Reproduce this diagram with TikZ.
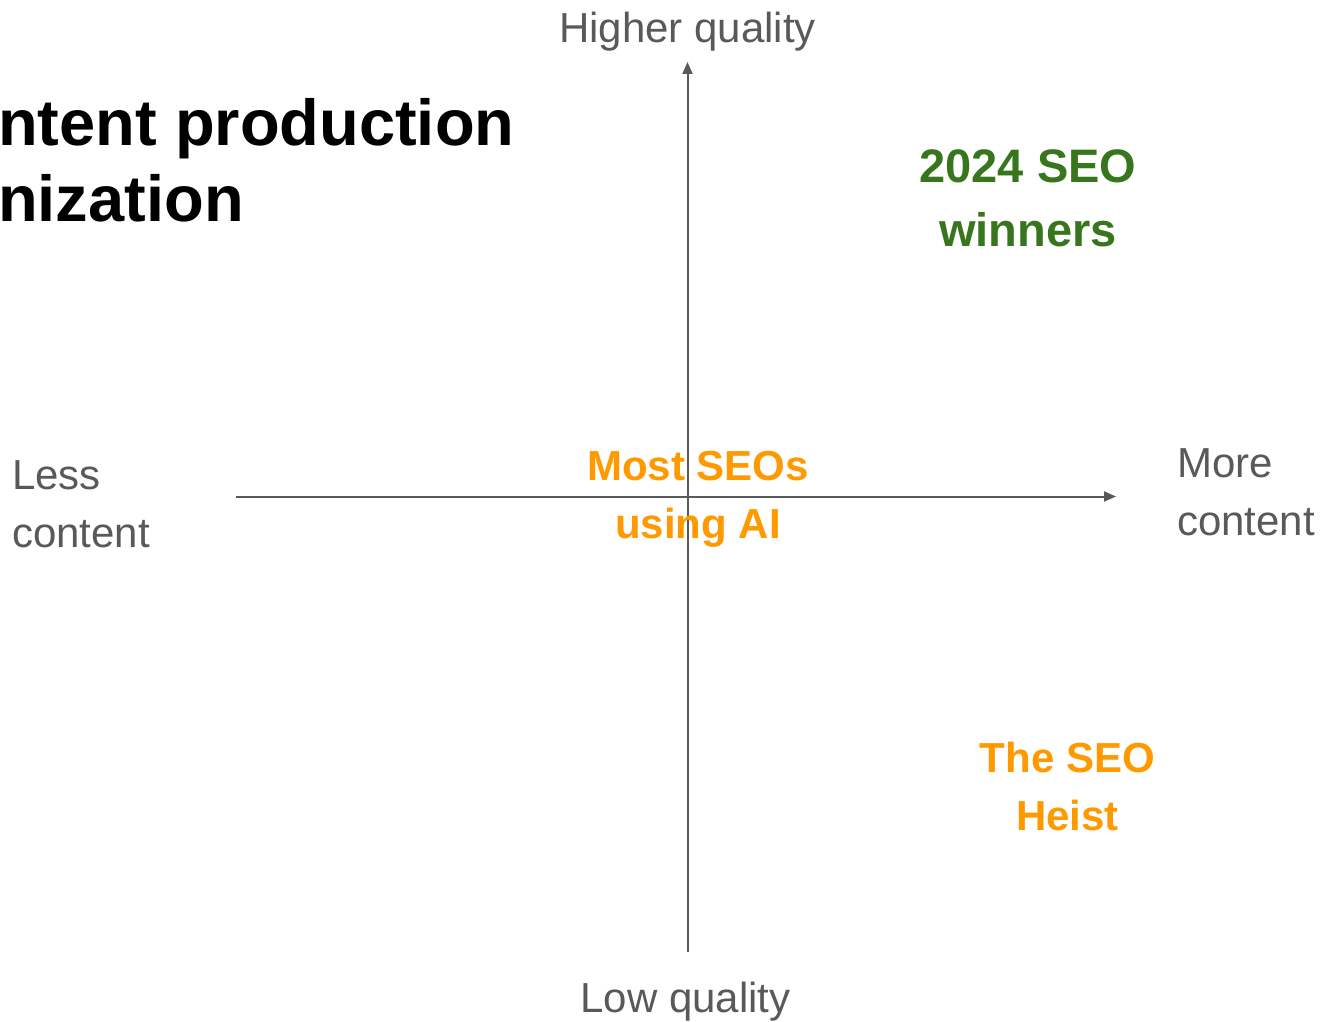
\documentclass[tikz,border=0pt]{standalone}
\usepackage{fontspec}
\setmainfont{Liberation Sans}
\usepackage{tikz}
\usetikzlibrary{arrows.meta,positioning}
\definecolor{axisgray}{HTML}{595959}
\definecolor{wingreen}{HTML}{38761D}
\definecolor{heistorange}{HTML}{FF9900}

\begin{document}
\begin{tikzpicture}[x=1pt, y=-1pt, >={Triangle[length=12pt,width=10pt]},
    axislabel/.style={text=axisgray, inner sep=0pt, font=\fontsize{42}{58}\selectfont},
    quadrant/.style={inner sep=0pt, align=center, font=\bfseries\fontsize{42}{58}\selectfont}]
  \useasboundingbox (0,0) rectangle (1320,1022);
  % Title
  \node[inner sep=0pt, anchor=west, align=left, font=\bfseries\fontsize{65}{76}\selectfont] (title) at (-2,160) {ntent production\\nization};
  % Axes
  \coordinate (xl) at (236,496.5);
  \coordinate (xr) at (1116,496.5);
  \coordinate (yb) at (687.5,952);
  \coordinate (yt) at (687.5,62);
  \draw[->, axisgray, line width=2pt] (xl) -- (xr);
  \draw[->, axisgray, line width=2pt] (yb) -- (yt);
  % Axis labels
  \node[axislabel] (high) at (687.5,32) {Higher quality};
  \node[axislabel] (low) at (685.5,1002) {Low quality};
  \node[axislabel, anchor=west, align=left] (less) at (12,504) {Less\\content};
  \node[axislabel, anchor=west, align=left] (more) at (1177,492) {More\\content};
  % Quadrants
  \node[quadrant, text=wingreen, font=\bfseries\fontsize{47}{64}\selectfont] (winners) at (1028,198) {2024 SEO\\winners};
  \node[quadrant, text=heistorange] (most) at (698,499) {Most SEOs\\using AI};
  \node[quadrant, text=heistorange] (heist) at (1067.5,786.5) {The SEO\\Heist};
\end{tikzpicture}
\end{document}
